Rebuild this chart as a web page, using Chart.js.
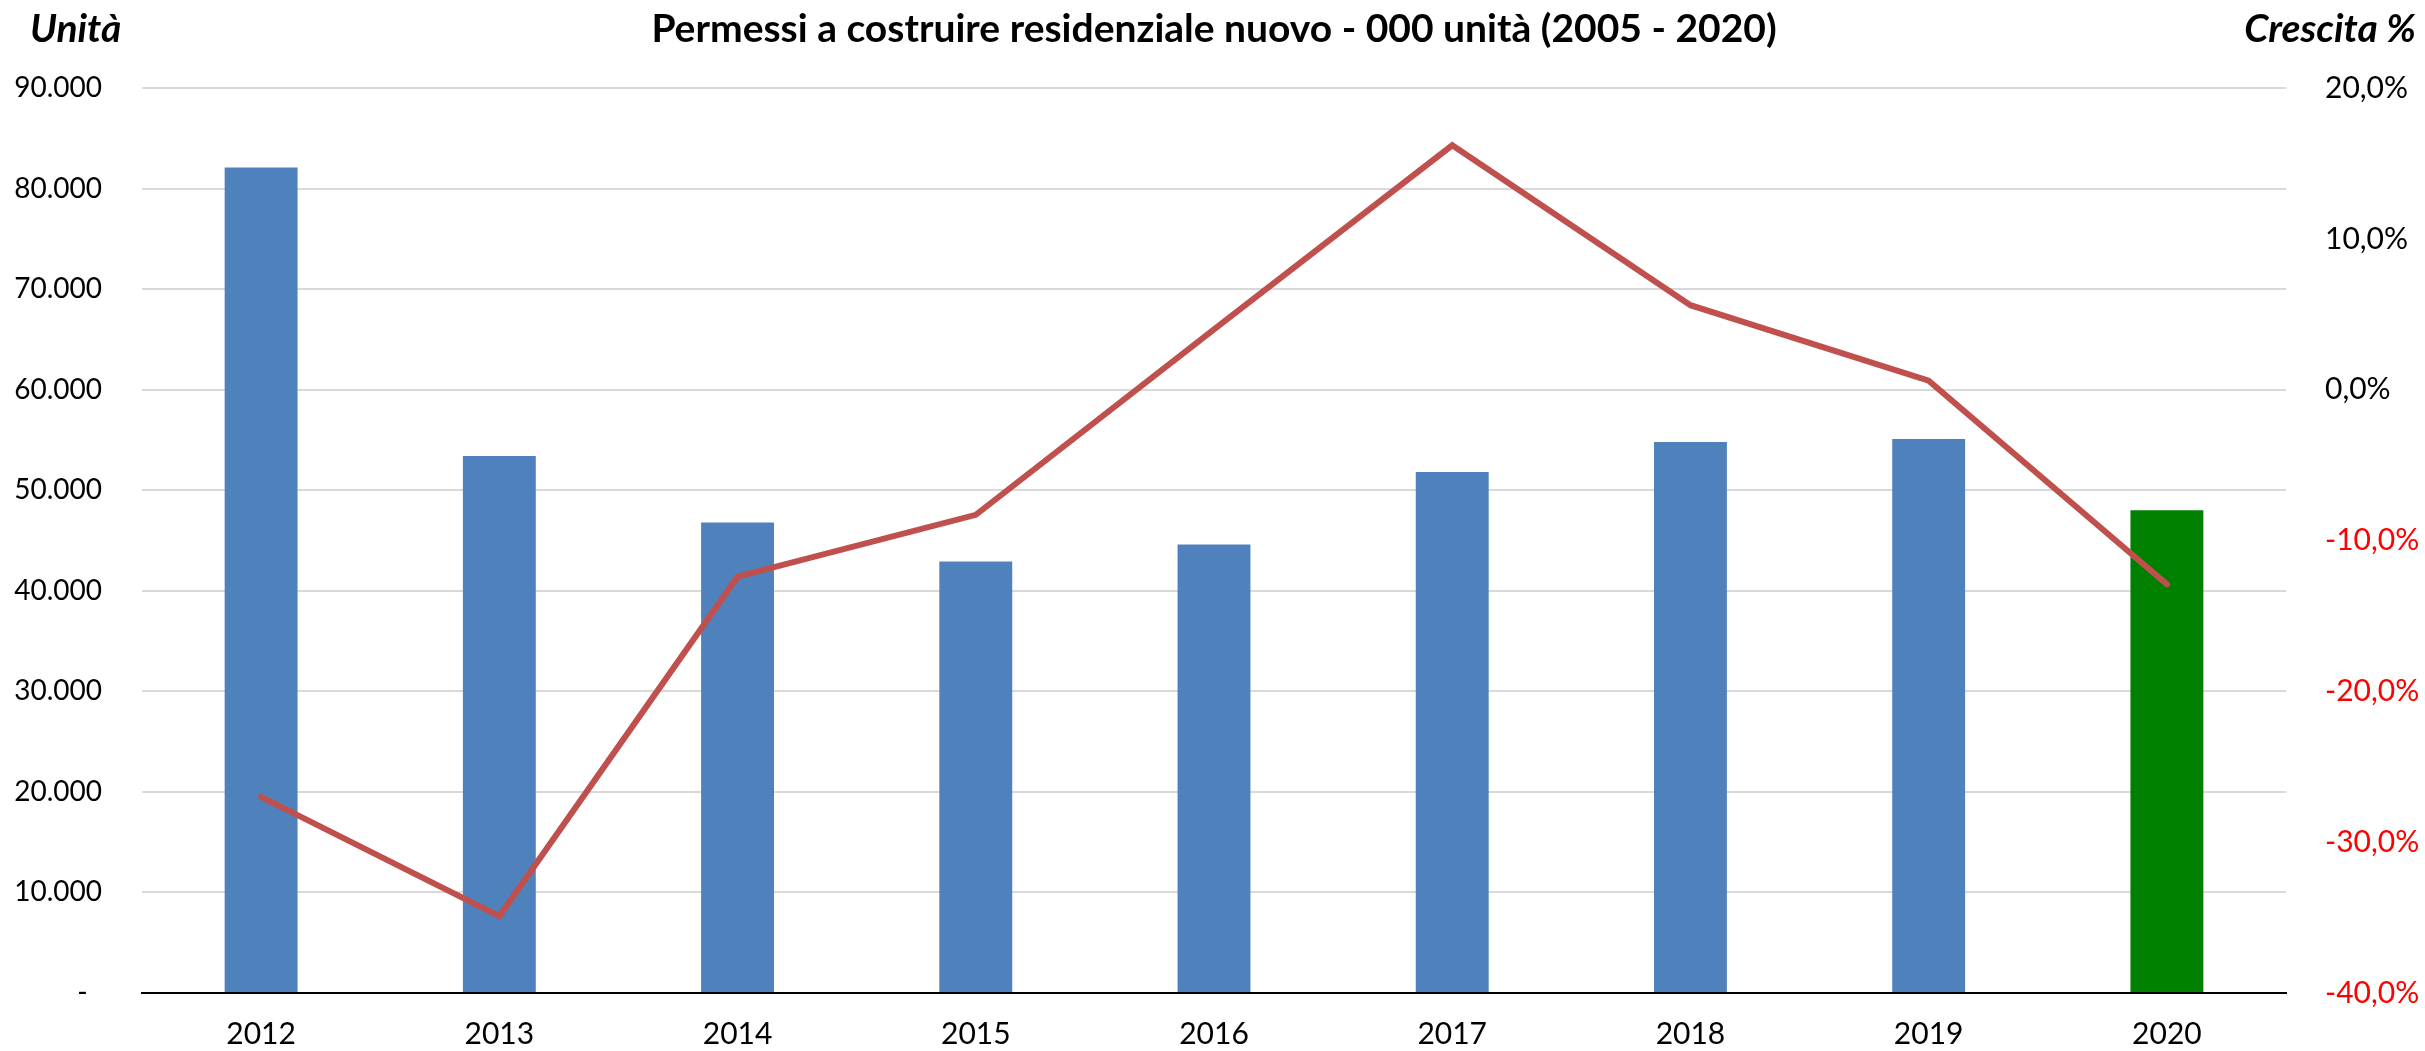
<!DOCTYPE html>
<html>
<head>
<meta charset="utf-8">
<script src="https://cdn.jsdelivr.net/npm/chart.js@4/dist/chart.umd.min.js"></script>
<style>
  html, body { margin: 0; padding: 0; background: #fff; }
  #wrap { position: relative; width: 2425px; height: 1051px; }
</style>
</head>
<body>
<div id="wrap"><canvas id="c"></canvas></div>
<script>
const categories = ['2012', '2013', '2014', '2015', '2016', '2017', '2018', '2019', '2020'];
const permessi = [82100, 53400, 46800, 42900, 44600, 51800, 54800, 55100, 48000];
const crescita = [-27.0, -34.9, -12.4, -8.3, 4.0, 16.2, 5.6, 0.6, -12.9];
const barColors = ['#4F81BD', '#4F81BD', '#4F81BD', '#4F81BD', '#4F81BD', '#4F81BD', '#4F81BD', '#4F81BD', '#008000'];
const leftTicks = [0, 10000, 20000, 30000, 40000, 50000, 60000, 70000, 80000, 90000];
const rightTicks = [-40, -30, -20, -10, 0, 10, 20];
const titleText = 'Permessi a costruire residenziale nuovo - 000 unità (2005 - 2020)';
const leftTitle = 'Unità';
const rightTitle = 'Crescita %';

const FONT = 'Lato, "Open Sans", sans-serif';

function fmtThousands(v) {
  if (v === 0) return '-  ';
  return String(Math.round(v)).replace(/\B(?=(\d{3})+(?!\d))/g, '.');
}
function fmtPct(v) {
  return v.toFixed(1).replace('.', ',') + '%';
}

const textPlugin = {
  id: 'texts',
  afterDraw(chart) {
    const ctx = chart.ctx;
    ctx.save();
    ctx.fillStyle = '#000';
    ctx.textBaseline = 'middle';
    ctx.font = 'bold 39px ' + FONT;
    ctx.textAlign = 'center';
    ctx.fillText(titleText, 1214, 29);
    ctx.font = 'italic bold 39px ' + FONT;
    ctx.textAlign = 'left';
    ctx.fillText(leftTitle, 30, 29);
    ctx.textAlign = 'right';
    ctx.fillText(rightTitle, 2416, 29);
    ctx.restore();
  }
};

new Chart(document.getElementById('c'), {
  data: {
    labels: categories,
    datasets: [
      {
        type: 'line',
        label: 'Crescita %',
        data: crescita,
        yAxisID: 'y1',
        borderColor: '#C0504D',
        borderWidth: 6,
        pointRadius: 0,
        tension: 0,
        borderCapStyle: 'round',
        borderJoinStyle: 'miter',
        order: 1
      },
      {
        type: 'bar',
        label: 'Permessi',
        data: permessi,
        yAxisID: 'y',
        backgroundColor: barColors,
        borderWidth: 0,
        categoryPercentage: 1,
        barPercentage: 0.306,
        order: 2
      }
    ]
  },
  options: {
    responsive: true,
    maintainAspectRatio: false,
    animation: false,
    layout: { padding: { top: 88, left: 0, right: 0, bottom: 0 } },
    plugins: { legend: { display: false }, title: { display: false }, tooltip: { enabled: false } },
    scales: {
      x: {
        grid: { display: false, drawTicks: false },
        border: { display: true, color: '#000', width: 2 },
        ticks: { color: '#000', font: { family: FONT, size: 30 }, padding: 23, maxRotation: 0 },
        afterFit(s) { s.height = 58; }
      },
      y: {
        position: 'left',
        min: 0, max: 90000,
        afterBuildTicks(s) { s.ticks = leftTicks.map(v => ({ value: v })); },
        grid: { color: '#D9D9D9', lineWidth: 2, drawTicks: false },
        border: { display: false },
        ticks: { color: '#000', font: { family: FONT, size: 28 }, padding: 40, callback: v => fmtThousands(v) },
        afterFit(s) { s.width = 142; }
      },
      y1: {
        position: 'right',
        min: -40, max: 20,
        afterBuildTicks(s) { s.ticks = rightTicks.map(v => ({ value: v })); },
        grid: { display: false, drawTicks: false },
        border: { display: false },
        ticks: {
          color: c => (c.tick && c.tick.value < 0) ? '#FF0000' : '#000',
          font: { family: FONT, size: 30 }, padding: 39,
          callback: v => fmtPct(v)
        },
        afterFit(s) { s.width = 139; }
      }
    }
  },
  plugins: [textPlugin]
});
</script>
</body>
</html>
